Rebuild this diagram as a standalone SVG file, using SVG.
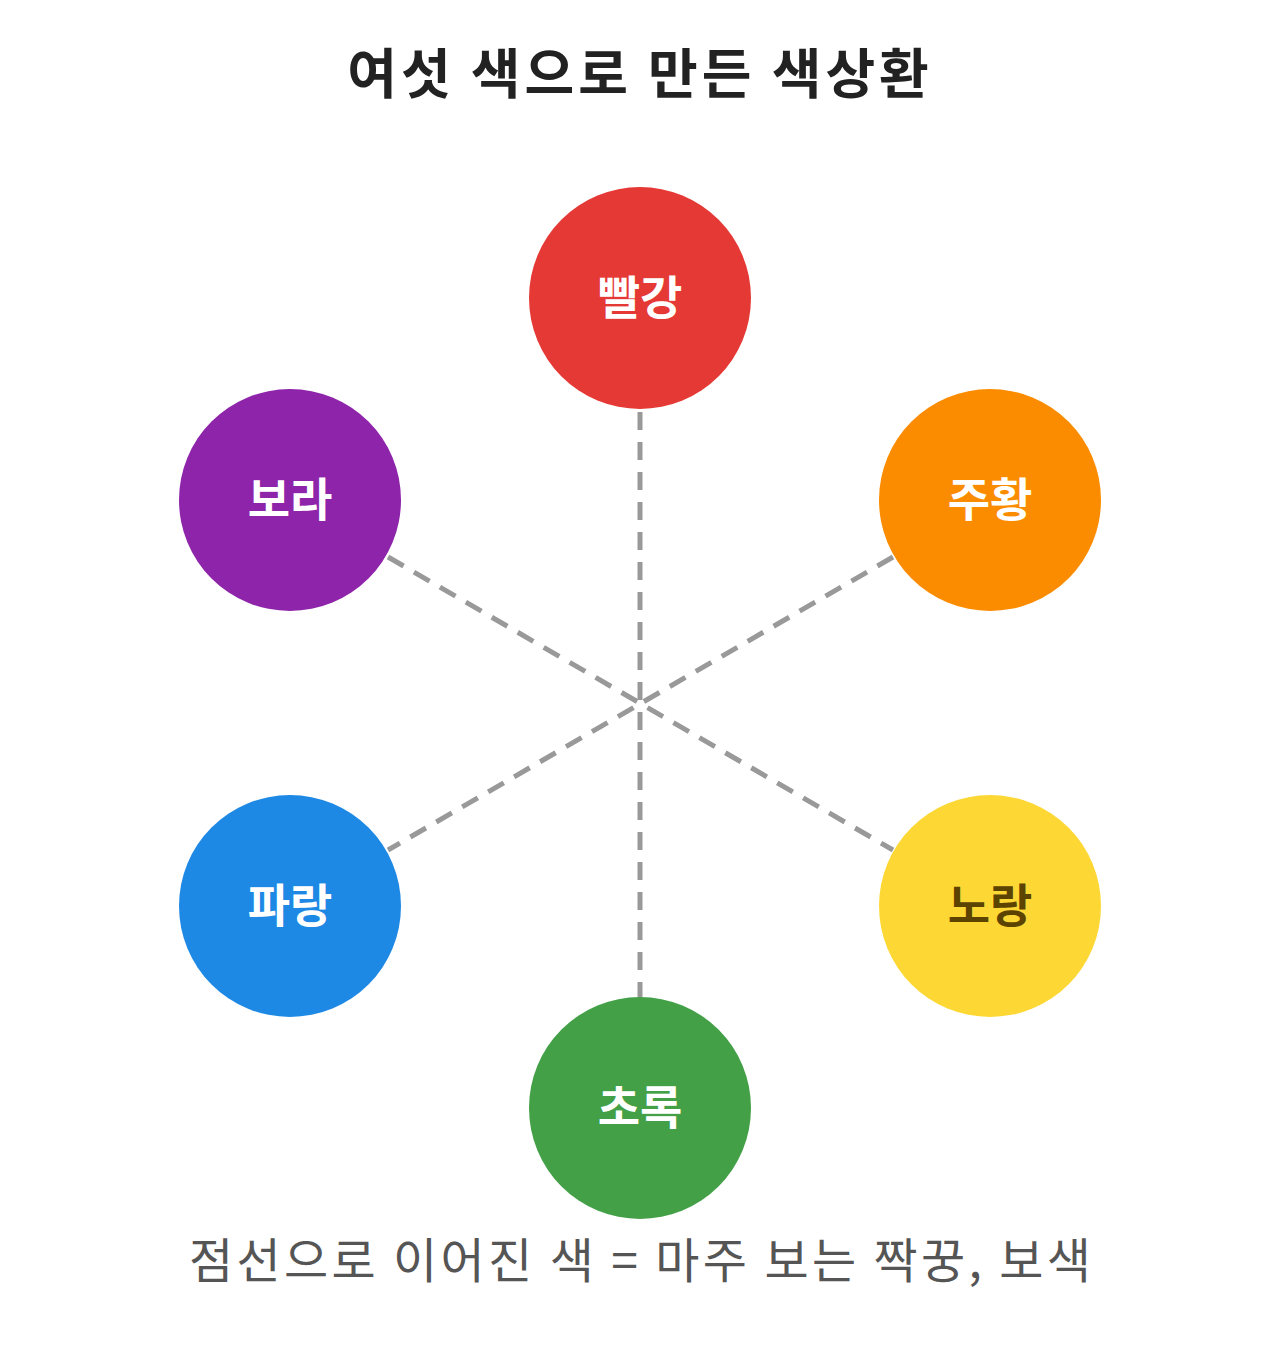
<svg xmlns="http://www.w3.org/2000/svg" width="1280" height="1365" viewBox="0 0 1280 1365">
<style>
.t{font-family:"Noto Sans CJK KR",sans-serif;text-anchor:middle}
.lbl{font-size:46px;font-weight:700;fill:#fff}
.ln{stroke:#999;stroke-width:5;stroke-dasharray:18 12;fill:none}
</style>
<rect width="1280" height="1365" fill="#fff"/>
<text class="t" x="640" y="94" font-size="54" font-weight="700" fill="#222" letter-spacing="4">여섯 색으로 만든 색상환</text>
<g id="connectors">
<line class="ln" x1="640" y1="412" x2="640" y2="997"/>
<line class="ln" x1="388" y1="557" x2="893" y2="850"/>
<line class="ln" x1="893" y1="557" x2="388" y2="850"/>
</g>
<g id="red"><circle cx="640" cy="298" r="111" fill="#e53935"/><text class="t lbl" x="640" y="314">빨강</text></g>
<g id="orange"><circle cx="990" cy="500" r="111" fill="#fb8c00"/><text class="t lbl" x="990" y="516">주황</text></g>
<g id="yellow"><circle cx="990" cy="906" r="111" fill="#fdd835"/><text class="t lbl" x="990" y="922" style="fill:#5d4300">노랑</text></g>
<g id="green"><circle cx="640" cy="1108" r="111" fill="#43a047"/><text class="t lbl" x="640" y="1124">초록</text></g>
<g id="blue"><circle cx="290" cy="906" r="111" fill="#1e88e5"/><text class="t lbl" x="290" y="922">파랑</text></g>
<g id="purple"><circle cx="290" cy="500" r="111" fill="#8e24aa"/><text class="t lbl" x="290" y="516">보라</text></g>
<text class="t" x="640" y="1278" font-size="48" fill="#555" textLength="902" lengthAdjust="spacing">점선으로 이어진 색 = 마주 보는 짝꿍, 보색</text>
</svg>
